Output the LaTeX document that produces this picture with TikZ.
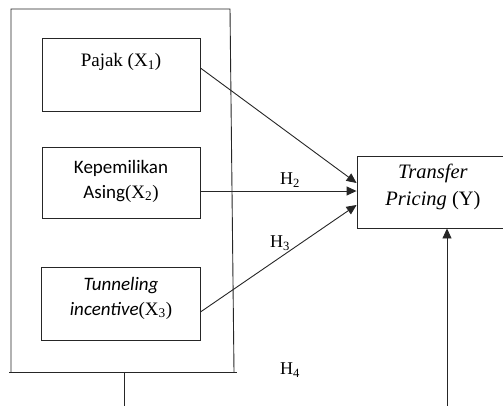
\documentclass[tikz,border=0pt]{standalone}
\usepackage{fontspec}
\setmainfont{Liberation Serif}
\newfontfamily\carlfont{Carlito}
\usetikzlibrary{calc,arrows.meta}
\begin{document}
\begin{tikzpicture}[x=1pt,y=-1pt,
  box/.style={draw=black!85,line width=0.9pt,rectangle,inner sep=0pt},
  txt/.style={font=\fontsize{19}{25}\selectfont,align=center,inner sep=0pt},
  lbl/.style={font=\fontsize{18}{22}\selectfont,inner sep=0pt},
  conn/.style={draw=black!85,line width=0.9pt},
  arr/.style={conn,-{Triangle[length=10pt,width=9pt]}}]
\useasboundingbox (0,0) rectangle (503,405);
\clip (0,0) rectangle (503,405);
% outer frame
\draw[conn] (11,372) -- (11,9) -- (230,9) -- (234,372);
\coordinate (fl) at (9,372);
\coordinate (fr) at (237,372);
\draw[conn] (fl) -- (fr);
% boxes
\node[box,minimum width=158pt,minimum height=73pt] (x1) at (121,74.5) {};
\node[txt] (t1) at (121,62) {Pajak (X\textsubscript{1})};
\node[box,minimum width=158pt,minimum height=71pt] (x2) at (121,182.5) {};
\node[txt] (t2) at (121,181) {{\carlfont Kepemilikan}\\{\carlfont Asing}(X\textsubscript{2})};
\node[box,minimum width=159pt,minimum height=73pt] (x3) at (120.5,303.5) {};
\node[txt] (t3) at (121,298) {{\carlfont\itshape Tunneling}\\{\carlfont\itshape incentive}(X\textsubscript{3})};
\node[box,minimum width=153pt,minimum height=72pt] (y) at (433.5,192) {};
\node[txt,font=\fontsize{20.5}{27}\selectfont] (ty) at (433,187) {\textit{Transfer}\\\textit{Pricing} (Y)};
% labels
\node[lbl] (h2) at (290,180) {H\textsubscript{2}};
\node[lbl] (h3) at (280,243) {H\textsubscript{3}};
\node[lbl] (h4) at (290,370) {H\textsubscript{4}};
% connectors
\draw[arr] ($(x1.east)+(0,-6.5)$) -- ($(y.west)+(0,-9)$);
\draw[arr] ($(x2.east)+(0,8.5)$) -- ($(y.west)+(0,-1)$);
\draw[arr] ($(x3.east)+(0,8.5)$) -- ($(y.west)+(0,13)$);
\coordinate (b1) at (124,372);
\coordinate (b2) at (124,406);
\draw[conn] (b1) -- (b2);
\coordinate (b3) at (447,406);
\draw[arr] (b3) -- (y.south -| b3);
\end{tikzpicture}
\end{document}
